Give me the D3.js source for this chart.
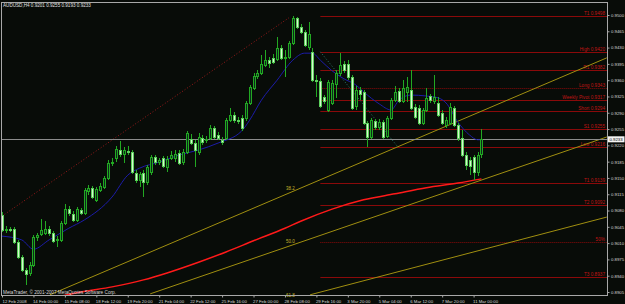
<!DOCTYPE html>
<html>
<head>
<meta charset="utf-8">
<script src="https://cdn.jsdelivr.net/npm/d3@7"></script>
<style>
  body { margin: 0; background: #080c08; }
  svg { display: block; }
</style>
</head>
<body>
<div id="chart"></div>
<script>
// AUDUSD H4, 12 Feb - 11 Mar 2008
const titleText = "AUDUSD,H4  0.9201 0.9255 0.9193 0.9233";
const copyrightText = "MetaTrader, \u00a9 2001-2007 MetaQuotes Software Corp.";

const barOpen = [0.9070,0.9038,0.9040,0.9040,0.9012,0.8980,0.8952,0.8946,0.8963,0.9023,
  0.9030,0.9032,0.9040,0.9032,0.9017,0.9017,0.9053,0.9083,0.9073,0.9060,
  0.9081,0.9075,0.9122,0.9128,0.9103,0.9124,0.9131,0.9150,0.9182,0.9193,
  0.9210,0.9201,0.9208,0.9206,0.9161,0.9146,0.9161,0.9141,0.9163,0.9195,
  0.9184,0.9193,0.9174,0.9193,0.9193,0.9204,0.9184,0.9206,0.9234,0.9225,
  0.9206,0.9236,0.9232,0.9236,0.9257,0.9242,0.9232,0.9236,0.9274,0.9285,
  0.9274,0.9279,0.9279,0.9311,0.9343,0.9369,0.9375,0.9393,0.9403,0.9408,
  0.9405,0.9429,0.9408,0.9410,0.9440,0.9494,0.9474,0.9463,0.9431,0.9421,
  0.9360,0.9358,0.9324,0.9296,0.9311,0.9352,0.9375,0.9395,0.9395,0.9367,
  0.9305,0.9339,0.9335,0.9268,0.9238,0.9272,0.9259,0.9270,0.9240,0.9279,
  0.9317,0.9337,0.9315,0.9335,0.9339,0.9302,0.9300,0.9268,0.9296,0.9326,
  0.9315,0.9311,0.9290,0.9264,0.9268,0.9300,0.9264,0.9236,0.9199,0.9189,
  0.9195,0.9163,0.9201];
const barHigh = [0.9077,0.9047,0.9045,0.9045,0.9017,0.8984,0.8957,0.8969,0.9027,0.9032,
  0.9062,0.9058,0.9047,0.9036,0.9025,0.9058,0.9094,0.9090,0.9079,0.9088,
  0.9085,0.9128,0.9135,0.9133,0.9131,0.9139,0.9154,0.9189,0.9193,0.9219,
  0.9229,0.9216,0.9219,0.9210,0.9167,0.9163,0.9167,0.9178,0.9199,0.9199,
  0.9193,0.9197,0.9197,0.9208,0.9210,0.9210,0.9212,0.9251,0.9244,0.9232,
  0.9247,0.9242,0.9240,0.9264,0.9262,0.9249,0.9238,0.9279,0.9300,0.9292,
  0.9281,0.9285,0.9315,0.9350,0.9375,0.9382,0.9414,0.9425,0.9410,0.9416,
  0.9453,0.9436,0.9425,0.9444,0.9498,0.9496,0.9481,0.9468,0.9485,0.9429,
  0.9371,0.9365,0.9328,0.9360,0.9360,0.9382,0.9418,0.9401,0.9403,0.9371,
  0.9347,0.9345,0.9339,0.9272,0.9279,0.9277,0.9277,0.9274,0.9283,0.9322,
  0.9347,0.9343,0.9360,0.9367,0.9382,0.9309,0.9307,0.9300,0.9343,0.9330,
  0.9371,0.9324,0.9296,0.9281,0.9311,0.9305,0.9268,0.9253,0.9206,0.9195,
  0.9199,0.9206,0.9255];
const barLow = [0.9034,0.9032,0.9034,0.9008,0.8976,0.8948,0.8920,0.8939,0.8959,0.9015,
  0.9025,0.9027,0.9025,0.9010,0.9002,0.9012,0.9049,0.9068,0.9055,0.9055,
  0.9070,0.9070,0.9113,0.9105,0.9098,0.9120,0.9126,0.9146,0.9176,0.9184,
  0.9195,0.9182,0.9199,0.9158,0.9139,0.9131,0.9109,0.9135,0.9156,0.9178,
  0.9178,0.9171,0.9163,0.9189,0.9184,0.9178,0.9178,0.9201,0.9221,0.9174,
  0.9199,0.9221,0.9225,0.9232,0.9234,0.9232,0.9221,0.9232,0.9270,0.9268,
  0.9266,0.9251,0.9272,0.9307,0.9339,0.9363,0.9371,0.9388,0.9386,0.9395,
  0.9401,0.9403,0.9367,0.9405,0.9436,0.9470,0.9459,0.9431,0.9425,0.9356,
  0.9324,0.9300,0.9309,0.9292,0.9307,0.9322,0.9369,0.9375,0.9360,0.9296,
  0.9296,0.9317,0.9264,0.9216,0.9234,0.9253,0.9253,0.9234,0.9236,0.9274,
  0.9313,0.9311,0.9311,0.9313,0.9296,0.9277,0.9264,0.9264,0.9292,0.9311,
  0.9309,0.9281,0.9264,0.9257,0.9264,0.9259,0.9229,0.9195,0.9167,0.9156,
  0.9146,0.9154,0.9193];
const barClose = [0.9038,0.9040,0.9038,0.9012,0.8980,0.8952,0.8944,0.8963,0.9023,0.9027,
  0.9038,0.9040,0.9032,0.9015,0.9019,0.9053,0.9083,0.9075,0.9060,0.9083,
  0.9075,0.9124,0.9128,0.9109,0.9126,0.9133,0.9150,0.9182,0.9184,0.9212,
  0.9201,0.9210,0.9206,0.9163,0.9146,0.9158,0.9141,0.9174,0.9195,0.9184,
  0.9189,0.9176,0.9191,0.9199,0.9201,0.9182,0.9206,0.9247,0.9225,0.9210,
  0.9238,0.9227,0.9234,0.9257,0.9238,0.9236,0.9227,0.9274,0.9285,0.9274,
  0.9272,0.9257,0.9311,0.9345,0.9369,0.9375,0.9395,0.9403,0.9397,0.9399,
  0.9429,0.9408,0.9410,0.9440,0.9494,0.9474,0.9463,0.9436,0.9459,0.9360,
  0.9358,0.9305,0.9315,0.9356,0.9354,0.9375,0.9393,0.9382,0.9367,0.9300,
  0.9339,0.9330,0.9268,0.9238,0.9274,0.9259,0.9270,0.9238,0.9279,0.9317,
  0.9335,0.9315,0.9343,0.9345,0.9300,0.9281,0.9268,0.9296,0.9322,0.9317,
  0.9324,0.9285,0.9268,0.9274,0.9302,0.9264,0.9236,0.9199,0.9178,0.9176,
  0.9163,0.9199,0.9233];

// moving averages, sampled [bar index, price]
const slowMA = [[14,0.8894],[20,0.8905],[28,0.8916],[36,0.8931],[42,0.8946],[50,0.8969],
  [57,0.8991],[64,0.9015],[72,0.9042],[76,0.9057],[84,0.9083],[92,0.9103],[100,0.9116],
  [108,0.9129],[116,0.9139],[122,0.9148]];
const fastMA = [[0,0.9025],[5,0.9017],[8,0.8997],[12,0.9017],[17,0.9042],[21,0.9060],
  [28,0.9109],[32,0.9156],[35,0.9171],[40,0.9184],[45,0.9199],[50,0.9210],[55,0.9225],
  [61,0.9251],[63,0.9274],[66,0.9317],[70,0.9360],[74,0.9403],[77,0.9418],[79,0.9418],
  [81,0.9403],[84,0.9380],[87,0.9363],[90,0.9350],[92,0.9335],[96,0.9309],[99,0.9296],
  [101,0.9317],[104,0.9328],[108,0.9326],[111,0.9322],[113,0.9311],[116,0.9270],
  [119,0.9242],[121,0.9232],[122,0.9232]];

// horizontal levels drawn from bar 81 to the right edge
const levelPrices = [0.9498,0.9420,0.9382,0.9343,0.9317,0.9294,0.9255,0.9216,0.9139,0.9092,0.9012,0.8937];
const levelLabels = ["T1 0.9498","High 0.9420","R1 0.9382","Long 0.9343","Weekly Pivot 0.9317",
  "Short 0.9294","S1 0.9255","Low 0.9216","T1 0.9139","T2 0.9092","50%","T3 0.8937"];
const levelStartBar = 81;

// fibonacci fan lines [bar, price] -> [bar, price]
const fanLabels = ["38.2","50.0","61.8"];
const fanStart = [[12.2,0.8899],[37.7,0.8901],[78.4,0.8899]];
const fanEnd = [[153.9,0.9408],[153.9,0.9238],[153.9,0.9066]];

const redTrend = [[0,0.9068],[73,0.9494]];
const tealTrend = [[81,0.9421],[100.5,0.9219]];

const lastPrice = 0.9233;

const priceTicks = [0.9500,0.9465,0.9430,0.9395,0.9360,0.9325,0.9290,0.9255,0.9220,0.9185,
  0.9150,0.9115,0.9080,0.9045,0.9010,0.8975,0.8940,0.8905];
const timeIdx = [0,8,16,24,32,40,48,56,64,72,80,88,96,104,112,120];
const timeLabels = ["12 Feb 2008","14 Feb 00:00","15 Feb 08:00","18 Feb 12:00","19 Feb 20:00",
  "21 Feb 04:00","22 Feb 12:00","25 Feb 16:00","27 Feb 00:00","28 Feb 08:00","29 Feb 16:00",
  "3 Mar 20:00","5 Mar 04:00","6 Mar 12:00","7 Mar 20:00","11 Mar 00:00"];

const width = 625, height = 304;
const plot = { left: 1, top: 2, right: 607, bottom: 295 };
const font = "'Liberation Sans', Arial, sans-serif";

const x = d3.scaleLinear().domain([0, 120]).range([2, 473.6]);
const y = d3.scaleLinear().domain([0.8905, 0.95]).range([292, 15]);

const svg = d3.select("#chart").append("svg")
    .attr("width", width)
    .attr("height", height)
    .style("background", "#080c08");

svg.append("clipPath").attr("id", "clip")
  .append("rect")
    .attr("x", plot.left).attr("y", plot.top)
    .attr("width", plot.right - plot.left).attr("height", plot.bottom - plot.top);

const g = svg.append("g").attr("clip-path", "url(#clip)");

// level lines
levelPrices.forEach((p, k) => {
    const dotted = levelLabels[k] === "Long 0.9343" || levelLabels[k] === "50%";
    g.append("line")
        .attr("x1", x(levelStartBar)).attr("x2", plot.right)
        .attr("y1", Math.round(y(p)) + 0.5).attr("y2", Math.round(y(p)) + 0.5)
        .attr("stroke", "#8a0a0a")
        .attr("stroke-width", 1)
        .attr("stroke-dasharray", dotted ? "1,1" : null);
    g.append("text")
        .attr("x", plot.right - 2)
        .attr("y", y(p) - 0.8)
        .attr("text-anchor", "end")
        .attr("fill", "#c01414")
        .style("font", `4.7px ${font}`)
        .text(levelLabels[k]);
});

// fan lines
const segLine = d3.line().x(d => x(d[0])).y(d => y(d[1]));
fanLabels.forEach((lab, k) => {
    g.append("path")
        .datum([fanStart[k], fanEnd[k]])
        .attr("d", segLine)
        .attr("fill", "none")
        .attr("stroke", "#a08f10")
        .attr("stroke-width", 1);
    const t = (72.5 - fanStart[k][0]) / (fanEnd[k][0] - fanStart[k][0]);
    const py = fanStart[k][1] + t * (fanEnd[k][1] - fanStart[k][1]);
    svg.append("text")
        .attr("x", x(72.5) - 1)
        .attr("y", y(py) - 3.5)
        .attr("fill", "#c4b428")
        .style("font", `4.5px ${font}`)
        .text(lab);
});

// dotted trend lines
g.append("path").datum(redTrend).attr("d", segLine)
    .attr("fill", "none").attr("stroke", "#9a1a1a").attr("stroke-dasharray", "1,2");
g.append("path").datum(tealTrend).attr("d", segLine)
    .attr("fill", "none").attr("stroke", "#2a7a70").attr("stroke-dasharray", "1,2");

// current price line
g.append("line")
    .attr("x1", plot.left).attr("x2", plot.right)
    .attr("y1", Math.round(y(lastPrice)) + 0.5).attr("y2", Math.round(y(lastPrice)) + 0.5)
    .attr("stroke", "#8c8c8c");

// moving averages
const maLine = d3.line().curve(d3.curveMonotoneX).x(d => x(d[0])).y(d => y(d[1]));
g.append("path").datum(slowMA).attr("d", maLine)
    .attr("fill", "none").attr("stroke", "#ff1a1a").attr("stroke-width", 1.5);
g.append("path").datum(fastMA).attr("d", maLine)
    .attr("fill", "none").attr("stroke", "#1c1ca8").attr("stroke-width", 1);

// candles
const bars = barOpen.map((o, i) => ({ i, o, h: barHigh[i], l: barLow[i], c: barClose[i] }));
const cg = g.append("g").attr("shape-rendering", "crispEdges");
cg.selectAll("line.wick").data(bars).join("line")
    .attr("class", "wick")
    .attr("x1", d => Math.round(x(d.i)) + 0.5)
    .attr("x2", d => Math.round(x(d.i)) + 0.5)
    .attr("y1", d => y(d.h))
    .attr("y2", d => y(d.l))
    .attr("stroke", "#22a822");
cg.selectAll("rect.body").data(bars).join("rect")
    .attr("class", "body")
    .attr("x", d => Math.round(x(d.i)) - 0.5)
    .attr("width", 2)
    .attr("y", d => Math.round(y(Math.max(d.o, d.c))) + 0.5)
    .attr("height", d => Math.max(1, Math.round(Math.abs(y(d.o) - y(d.c)))))
    .attr("fill", d => d.c < d.o ? "#d8f8d0" : "#0c2a1c")
    .attr("stroke", d => d.c < d.o ? "#5ccf5c" : "#22a822");

// frame
svg.append("path")
    .attr("d", `M${plot.left + 0.5},${plot.bottom + 0.5}V${plot.top + 0.5}H${plot.right + 0.5}V${plot.bottom + 0.5}H${plot.left + 0.5}`)
    .attr("fill", "none")
    .attr("stroke", "#a8a8a8")
    .attr("shape-rendering", "crispEdges");

// price axis
const yAxis = svg.append("g")
    .attr("transform", `translate(${plot.right + 0.5},0)`)
    .call(d3.axisRight(y).tickValues(priceTicks).tickFormat(d3.format(".4f")).tickSize(2).tickPadding(1.5));
yAxis.select(".domain").remove();
yAxis.selectAll("line").attr("stroke", "#a8a8a8");
yAxis.selectAll("text").attr("fill", "#d8d8d8").style("font", `4.3px ${font}`);

// last price box
svg.append("rect")
    .attr("x", plot.right + 1).attr("y", y(lastPrice) - 3)
    .attr("width", 16.5).attr("height", 6)
    .attr("fill", "#f4f4f4");
svg.append("text")
    .attr("x", plot.right + 2.5).attr("y", y(lastPrice) + 1.5)
    .attr("fill", "#000")
    .style("font", `4.3px ${font}`)
    .text(d3.format(".4f")(lastPrice));

// time axis
const xAxis = svg.append("g")
    .attr("transform", `translate(0,${plot.bottom + 0.5})`)
    .call(d3.axisBottom(x).tickValues(timeIdx).tickFormat((d, k) => timeLabels[k]).tickSize(2).tickPadding(2));
xAxis.select(".domain").remove();
xAxis.selectAll("line").attr("stroke", "#a8a8a8");
xAxis.selectAll("text")
    .attr("text-anchor", "start")
    .attr("dx", (d, k) => k === 0 ? 0 : -1)
    .attr("fill", "#d8d8d8")
    .style("font", `4.3px ${font}`);

// header and copyright
svg.append("text")
    .attr("x", 3).attr("y", 6.8)
    .attr("fill", "#e0e0e0")
    .style("font", `4.6px ${font}`)
    .text(titleText);
svg.append("text")
    .attr("x", 3).attr("y", 293.6)
    .attr("fill", "#d8d8d8")
    .style("font", `4.7px ${font}`)
    .text(copyrightText);
</script>
</body>
</html>
